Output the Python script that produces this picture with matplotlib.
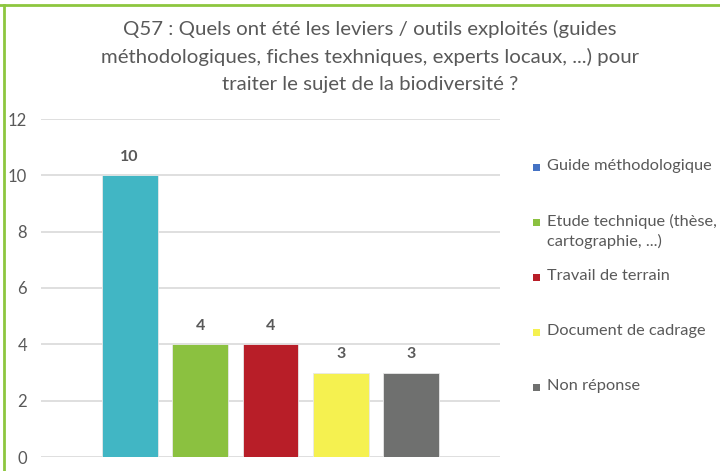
import matplotlib
matplotlib.use("Agg")
import matplotlib.pyplot as plt
from matplotlib.patches import Rectangle
from matplotlib.lines import Line2D

plt.rcParams['font.family'] = ['Lato', 'DejaVu Sans']

title = ("Q57 : Quels ont été les leviers / outils exploités (guides\n"
         "méthodologiques, fiches texhniques, experts locaux, ...) pour\n"
         "traiter le sujet de la biodiversité ?")
categories = ["Guide méthodologique", "Etude technique (thèse,\ncartographie, ...)",
              "Travail de terrain", "Document de cadrage", "Non réponse"]
values = [10, 4, 4, 3, 3]
bar_colors = ["#41B6C4", "#8BC140", "#B81E28", "#F5F150", "#6F706F"]
legend_colors = ["#4472C4", "#8BC140", "#B81E28", "#F5F150", "#6F706F"]
yticks = [0, 2, 4, 6, 8, 10, 12]

W, H = 720, 471
fig = plt.figure(figsize=(W / 100, H / 100), dpi=100)
fig.patch.set_facecolor("white")

def fx(px):
    return px / W

def fy(py):
    return 1 - py / H

ax = fig.add_axes([fx(41), fy(457), fx(500) - fx(41), fy(119) - fy(457)])
x = list(range(len(values)))
bars = ax.bar(x, values, width=0.79, color=bar_colors, edgecolor="#E8E8E8", linewidth=0.6, zorder=3)
ax.set_xlim(-1.26, len(values) - 1 + 1.26)
ax.set_ylim(0, 12)
ax.set_yticks(yticks)
ax.set_yticklabels([str(t) for t in yticks], fontsize=12, color="#595959")
ax.tick_params(axis="y", length=0, pad=10)
ax.set_xticks([])
for s in ax.spines.values():
    s.set_visible(False)
ax.grid(axis="y", color="#D9D9D9", linewidth=1.2, zorder=0)
ax.set_axisbelow(True)

for xi, v in zip(x, values):
    ax.annotate(str(v), (xi, v), xytext=(0, 13.5), textcoords="offset points",
                ha="center", va="center", fontsize=11.5, fontweight="bold", color="#595959")

fig.text(fx(370), fy(20), title, ha="center", va="top", fontsize=14.7,
         color="#595959", linespacing=1.68)

# legend
for i, (lab, col) in enumerate(zip(categories, legend_colors)):
    yc = 167.7 + 55 * i
    fig.patches.append(Rectangle((fx(532.5), fy(yc + 3.5)), fx(7), 7 / H,
                                 transform=fig.transFigure, facecolor=col, edgecolor="none"))
    fig.text(fx(547), fy(yc - 9), lab, ha="left", va="top", fontsize=11.8,
             color="#595959", linespacing=1.45)

# green frame
fig.lines.append(Line2D([0, 1], [fy(4.5), fy(4.5)], transform=fig.transFigure,
                        color="#8DC63F", linewidth=2))
fig.lines.append(Line2D([fx(4), fx(4)], [0, fy(4.5)], transform=fig.transFigure,
                        color="#8DC63F", linewidth=2))

fig.savefig("out.png", dpi=100, facecolor="white")
